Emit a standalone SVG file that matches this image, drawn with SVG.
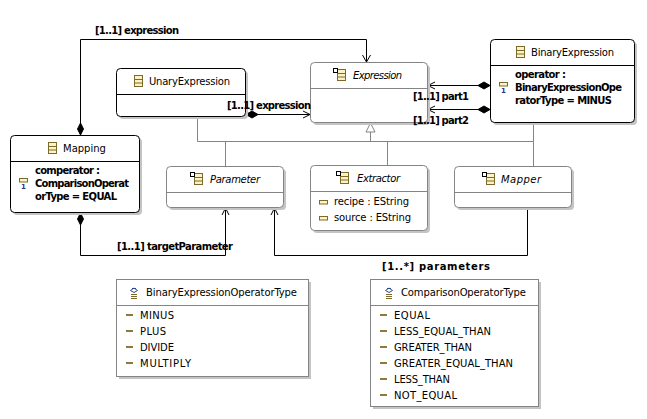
<svg xmlns="http://www.w3.org/2000/svg" width="647" height="419" viewBox="0 0 647 419">
<style>
text{font-family:"DejaVu Sans",sans-serif;font-size:10px;fill:#000}
.b{font-weight:bold;font-size:10px}
.i{font-style:italic}
.one{font-size:7px;font-weight:bold;fill:#1a3a7c}
.sh{fill:#c4c4c4;stroke:none}
.dark{fill:#fff;stroke:#000;stroke-width:1}
.grey{fill:#fff;stroke:#848484;stroke-width:1}
.sep{stroke-width:1;fill:none}
.c{fill:none;stroke:#000;stroke-width:1}
.g{fill:none;stroke:#848484;stroke-width:1}
.lit{fill:none;stroke:#8c7a3c;stroke-width:2}
</style>
<defs>
<g id="cls"><rect x="0.5" y="0.5" width="8" height="11" fill="#fbf3c4" stroke="#7c6a2c"/><path d="M1 4.5H8M1 8H8" stroke="#7c6a2c" fill="none"/></g>
<g id="abs"><use href="#cls" x="4" y="1"/><rect x="0.5" y="0.5" width="4" height="4" fill="#fff" stroke="#000"/></g>
<g id="attr"><rect x="0.5" y="0.5" width="8" height="3.5" fill="#fbf3c4" stroke="#7c6a2c"/></g>
<g id="enum"><path d="M2 1.5H6M0.5 3.5L4 1L7.5 3.5L4 5.5Z" fill="#fff" stroke="#2a4a8c"/><path d="M1 7.5H7M1 9.5H7M1 11.5H7" stroke="#7c6a2c" fill="none"/></g>
<path id="dh" d="M0 0L6-3.5L12 0L6 3.5Z" fill="#000" stroke="#000"/>
<path id="dv" d="M0 0L-3-6L0-12L3-6Z" fill="#000" stroke="#000"/>
</defs>
<g id="connectors">
<path class="g" d="M197.5 117V141.5H533.5V122M225.5 141.5V166M387.5 141.5V165M533.5 141.5V166M370.5 132V141.5"/>
<path d="M370.5 123L375 132H366Z" fill="#fff" stroke="#848484"/>
<path class="c" d="M80.5 124V39.5H366.5V62M362.5 55L366.5 62L370.5 55"/>
<path class="c" d="M258 114.5H310M303 111L310 114.5L303 118"/>
<path class="c" d="M478 85.5H428M435 82L428 85.5L435 89"/>
<path class="c" d="M478 109.5H428M435 106L428 109.5L435 113"/>
<path class="c" d="M80.5 224V255.5H225.5V208M222 215L225.5 208L229 215"/>
<path class="c" d="M527.5 208V255.5H274.5V208M271 215L274.5 208L278 215"/>
<use href="#dv" x="80.5" y="135"/>
<use href="#dv" x="80.5" y="225"/>
<use href="#dh" x="246" y="114.5"/>
<use href="#dh" x="478" y="85.5"/>
<use href="#dh" x="478" y="109.5"/>
</g>
<g id="mapping"><rect class="sh" x="13" y="138" width="129" height="77" rx="4"/><rect class="dark" x="10.5" y="135.5" width="129" height="77" rx="4"/><path class="sep" stroke="#000" d="M11 161.5H139"/>
<use href="#cls" x="48" y="142"/><text x="63" y="152">Mapping</text>
<use href="#attr" x="19" y="178"/><text class="one" x="21" y="189">1</text>
<text class="b" x="35" y="174" textLength="65">comperator :</text><text class="b" x="35" y="187" textLength="94">ComparisonOperat</text><text class="b" x="35" y="200" textLength="82">orType = EQUAL</text></g>
<g id="unary"><rect class="sh" x="119" y="71" width="129" height="48" rx="4"/><rect class="dark" x="116.5" y="68.5" width="129" height="48" rx="4"/><path class="sep" stroke="#000" d="M117 94.5H245"/>
<use href="#cls" x="134" y="75"/><text x="149" y="85" textLength="81">UnaryExpression</text></g>
<g id="expression"><rect class="sh" x="313" y="65" width="117" height="60" rx="4"/><rect class="grey" x="310.5" y="62.5" width="117" height="60" rx="4"/><path class="sep" stroke="#848484" d="M311 88.5H427"/>
<use href="#abs" x="333" y="68"/><text class="i" x="353" y="79" textLength="49">Expression</text></g>
<g id="binary"><rect class="sh" x="493" y="42" width="144" height="83" rx="4"/><rect class="dark" x="490.5" y="39.5" width="144" height="83" rx="4"/><path class="sep" stroke="#000" d="M491 65.5H634"/>
<use href="#cls" x="516" y="46"/><text x="531" y="56" textLength="83">BinaryExpression</text>
<use href="#attr" x="499" y="82"/><text class="one" x="501" y="93">1</text>
<text class="b" x="515" y="78" textLength="51">operator :</text><text class="b" x="515" y="91" textLength="107">BinaryExpressionOpe</text><text class="b" x="515" y="104" textLength="97">ratorType = MINUS</text></g>
<g id="parameter"><rect class="sh" x="169" y="169" width="117" height="41" rx="4"/><rect class="grey" x="166.5" y="166.5" width="117" height="41" rx="4"/><path class="sep" stroke="#848484" d="M167 192.5H283"/>
<use href="#abs" x="190" y="172"/><text class="i" x="210" y="183" textLength="50">Parameter</text></g>
<g id="extractor"><rect class="sh" x="313" y="168" width="117" height="65" rx="4"/><rect class="grey" x="310.5" y="165.5" width="117" height="65" rx="4"/><path class="sep" stroke="#848484" d="M311 191.5H427"/>
<use href="#abs" x="336" y="171"/><text class="i" x="357" y="182" textLength="43">Extractor</text>
<use href="#attr" x="319" y="200"/><text x="334" y="205" textLength="75">recipe : EString</text>
<use href="#attr" x="319" y="216"/><text x="334" y="221" textLength="77">source : EString</text></g>
<g id="mapper"><rect class="sh" x="457" y="169" width="117" height="41" rx="4"/><rect class="grey" x="454.5" y="166.5" width="117" height="41" rx="4"/><path class="sep" stroke="#848484" d="M455 192.5H571"/>
<use href="#abs" x="482" y="172"/><text class="i" x="501" y="183" textLength="40">Mapper</text></g>
<g id="binary-enum"><rect class="sh" x="119" y="282" width="192" height="97"/><rect class="grey" x="116.5" y="279.5" width="192" height="97"/><path class="sep" stroke="#848484" d="M117 305.5H308"/>
<use href="#enum" x="130" y="287"/><text x="146" y="296" textLength="151">BinaryExpressionOperatorType</text>
<path class="lit" d="M126 315H133M126 331H133M126 347H133M126 363H133"/>
<text x="140" y="319" textLength="34">MINUS</text><text x="140" y="335" textLength="26">PLUS</text><text x="140" y="351" textLength="34">DIVIDE</text><text x="140" y="367" textLength="51">MULTIPLY</text></g>
<g id="comparison-enum"><rect class="sh" x="373" y="282" width="168" height="127"/><rect class="grey" x="370.5" y="279.5" width="168" height="127"/><path class="sep" stroke="#848484" d="M371 305.5H538"/>
<use href="#enum" x="385" y="287"/><text x="401" y="296" textLength="125">ComparisonOperatorType</text>
<path class="lit" d="M380 315H387M380 331H387M380 347H387M380 363H387M380 379H387M380 395H387"/>
<text x="394" y="319" textLength="36">EQUAL</text><text x="394" y="335" textLength="97">LESS_EQUAL_THAN</text><text x="394" y="351" textLength="78">GREATER_THAN</text><text x="394" y="367" textLength="119">GREATER_EQUAL_THAN</text><text x="394" y="383" textLength="56">LESS_THAN</text><text x="394" y="399" textLength="63">NOT_EQUAL</text></g>
<g id="labels">
<text class="b" x="95" y="34" textLength="84">[1..1] expression</text>
<text class="b" x="227" y="109" textLength="84">[1..1] expression</text>
<text class="b" x="413" y="100" textLength="56">[1..1] part1</text>
<text class="b" x="413" y="124" textLength="56">[1..1] part2</text>
<text class="b" x="117" y="250" textLength="116">[1..1] targetParameter</text>
<text class="b" x="382" y="270" textLength="108">[1..*] parameters</text>
</g>
</svg>
